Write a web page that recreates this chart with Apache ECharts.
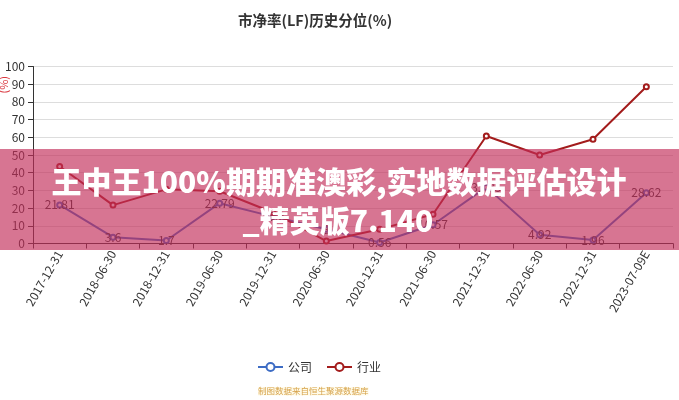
<!DOCTYPE html>
<html>
<head>
<meta charset="utf-8">
<script src="https://cdn.jsdelivr.net/npm/echarts@6/dist/echarts.min.js"></script>
<style>
html,body{margin:0;padding:0;background:#fff;}
#c{width:679px;height:400px;}
</style>
</head>
<body>
<div id="c"></div>
<script>
var categories = ['2017-12-31','2018-06-30','2018-12-31','2019-06-30','2019-12-31','2020-06-30','2020-12-31','2021-06-30','2021-12-31','2022-06-30','2022-12-31','2023-07-09E'];
var companyValues = [21.81, 3.6, 1.7, 22.79, 15.2, 8.0, 0.56, 10.57, 31.85, 4.92, 1.96, 28.62];
var industryValues = [43.5, 21.7, 30.6, 29.5, 17.5, 1.4, 8.0, 16.5, 60.7, 50.0, 58.9, 88.6];
var yTicks = [0, 10, 20, 30, 40, 50, 60, 70, 80, 90, 100];
var titleText = '市净率(LF)历史分位(%)';
var sourceText = '制图数据来自恒生聚源数据库';
var bannerLine1 = '王中王100%期期准澳彩,实地数据评估设计';
var bannerLine2 = '_精英版7.140';

var chart = echarts.init(document.getElementById('c'));
var font = '"Microsoft YaHei","Noto Sans CJK SC",sans-serif';
chart.setOption({
  animation: false,
  backgroundColor: '#fff',
  title: {
    text: titleText, left: 233, top: 8,
    textStyle: {fontSize: 14.5, fontWeight: 'bold', color: '#333', fontFamily: font}
  },
  legend: {
    data: ['公司', '行业'], bottom: 22, left: 252,
    itemWidth: 25, itemHeight: 10, itemGap: 14,
    textStyle: {fontSize: 12, color: '#333', fontFamily: font}
  },
  grid: {left: 33, right: 6, top: 66.5, bottom: 156.5, containLabel: false},
  xAxis: {
    type: 'category', data: categories, boundaryGap: true,
    axisLine: {lineStyle: {color: '#333'}},
    axisTick: {show: true, alignWithLabel: false, lineStyle: {color: '#333'}},
    axisLabel: {rotate: 60, fontSize: 12, color: '#333', interval: 0, margin: 8, fontFamily: font}
  },
  yAxis: {
    type: 'value', min: yTicks[0], max: yTicks[yTicks.length - 1], interval: 10,
    axisLine: {show: true, lineStyle: {color: '#333'}},
    axisTick: {show: true, lineStyle: {color: '#333'}},
    axisLabel: {fontSize: 12, color: '#333', fontFamily: font},
    splitLine: {lineStyle: {color: '#ddd'}}
  },
  series: [
    {
      name: '公司', type: 'line', data: companyValues,
      symbol: 'emptyCircle', symbolSize: 5,
      itemStyle: {color: '#3d6cc4'},
      lineStyle: {width: 2, color: '#3d6cc4'},
      label: {show: true, position: 'inside', color: '#333', fontSize: 12, fontFamily: font}
    },
    {
      name: '行业', type: 'line', data: industryValues,
      symbol: 'emptyCircle', symbolSize: 5,
      itemStyle: {color: '#a31c1c'},
      lineStyle: {width: 2, color: '#a31c1c'}
    }
  ],
  graphic: [
    {type: 'text', left: -2, top: 76, rotation: Math.PI / 2, z: 10,
     style: {text: '(%)', fill: '#d9363e', fontSize: 11, fontFamily: font}},
    {type: 'text', left: 258, top: 387, z: 10,
     style: {text: sourceText, fill: '#d6a24a', fontSize: 8.5, fontFamily: font, backgroundColor: '#fffbea'}},
    {type: 'rect', shape: {x: 0, y: 149, width: 679, height: 101}, z: 100,
     style: {fill: 'rgba(195,45,90,0.66)'}},
    {type: 'text', x: 339, y: 182, z: 101,
     style: {text: bannerLine1, fill: '#fff', fontSize: 30, fontWeight: 900, fontFamily: '"Noto Sans CJK SC",sans-serif', textAlign: 'center', textVerticalAlign: 'middle'}},
    {type: 'text', x: 338, y: 221, z: 101,
     style: {text: bannerLine2, fill: '#fff', fontSize: 30, fontWeight: 900, fontFamily: '"Noto Sans CJK SC",sans-serif', textAlign: 'center', textVerticalAlign: 'middle'}}
  ]
});
</script>
</body>
</html>
